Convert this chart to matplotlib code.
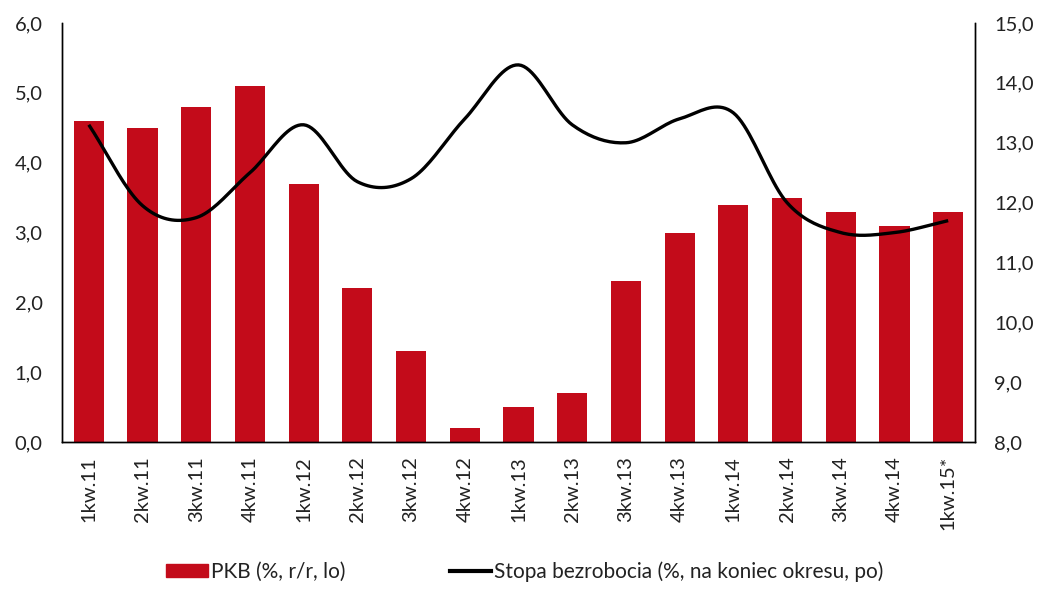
import numpy as np
import matplotlib
matplotlib.use("Agg")
import matplotlib.pyplot as plt
from matplotlib.patches import Patch
from matplotlib.lines import Line2D

plt.rcParams['font.family'] = ['Lato', 'DejaVu Sans']

kwartaly = ['1kw.11', '2kw.11', '3kw.11', '4kw.11', '1kw.12', '2kw.12', '3kw.12', '4kw.12',
            '1kw.13', '2kw.13', '3kw.13', '4kw.13', '1kw.14', '2kw.14', '3kw.14', '4kw.14', '1kw.15*']
pkb = [4.6, 4.5, 4.8, 5.1, 3.7, 2.2, 1.3, 0.2, 0.5, 0.7, 2.3, 3.0, 3.4, 3.5, 3.3, 3.1, 3.3]
bezrobocie = [13.3, 11.95, 11.75, 12.5, 13.3, 12.35, 12.4, 13.4, 14.3, 13.3, 13.0, 13.4, 13.5,
              12.0, 11.5, 11.5, 11.7]

left_ticks = [0, 1, 2, 3, 4, 5, 6]
right_ticks = [8, 9, 10, 11, 12, 13, 14, 15]


def smooth(x, y, n=20):
    # catmull-rom, like excel's "smoothed line"
    x = np.asarray(x, float)
    y = np.asarray(y, float)
    px = np.concatenate([[2 * x[0] - x[1]], x, [2 * x[-1] - x[-2]]])
    py = np.concatenate([[2 * y[0] - y[1]], y, [2 * y[-1] - y[-2]]])
    xs, ys = [], []
    t = np.linspace(0, 1, n, endpoint=False)
    for i in range(1, len(px) - 2):
        for p, out in ((px, xs), (py, ys)):
            p0, p1, p2, p3 = p[i - 1], p[i], p[i + 1], p[i + 2]
            out.extend(0.5 * (2 * p1 + (-p0 + p2) * t + (2 * p0 - 5 * p1 + 4 * p2 - p3) * t ** 2
                              + (-p0 + 3 * p1 - 3 * p2 + p3) * t ** 3))
    xs.append(x[-1])
    ys.append(y[-1])
    return np.array(xs), np.array(ys)


red = '#C30B1A'
txt = '#222222'
fig = plt.figure(figsize=(10.5, 6), dpi=100)
ax = fig.add_axes([0.059, 0.263, 0.8696, 0.6987])
ax2 = ax.twinx()

x = np.arange(len(kwartaly))
ax.bar(x, pkb, width=0.56, color=red, zorder=2)
ax.set_xlim(-0.5, len(kwartaly) - 0.5)
ax.set_ylim(0, 6)
ax.set_yticks(left_ticks)
ax.set_yticklabels([f'{v:.1f}'.replace('.', ',') for v in left_ticks], fontsize=14.5, color=txt)
ax.set_xticks(x)
ax.set_xticklabels(kwartaly, rotation=90, fontsize=14.5, color=txt)

sx, sy = smooth(x, bezrobocie)
ax2.plot(sx, sy, color='black', lw=2.4, solid_capstyle='butt', zorder=3)
ax2.set_ylim(8, 15)
ax2.set_yticks(right_ticks)
ax2.set_yticklabels([f'{v:.1f}'.replace('.', ',') for v in right_ticks], fontsize=14.5, color=txt)

for a in (ax, ax2):
    a.tick_params(axis='y', length=0, pad=14)
    a.tick_params(axis='x', length=0, pad=10)
    a.spines['top'].set_visible(False)
    for s in ('left', 'right', 'bottom'):
        a.spines[s].set_linewidth(1.0)
        a.spines[s].set_color('black')

handles = [Patch(color=red, label='PKB (%, r/r, lo)'),
           Line2D([0], [0], color='black', lw=3, label='Stopa bezrobocia (%, na koniec okresu, po)')]
fig.legend(handles=handles, loc='center', bbox_to_anchor=(0.5, 0.047), ncol=2, frameon=False,
           fontsize=15, handlelength=2.0, handleheight=0.55, columnspacing=5.0, handletextpad=0.15,
           labelcolor=txt)

fig.savefig('out.png', dpi=100)
